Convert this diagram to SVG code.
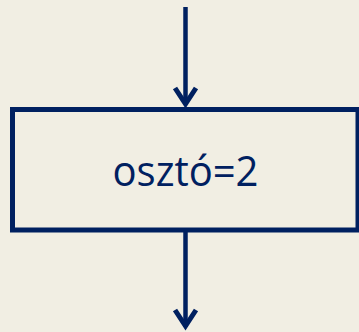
<svg xmlns="http://www.w3.org/2000/svg" width="359" height="332" viewBox="0 0 359 332">
  <style>
    .bg { fill: #f1eee3; }
    .box { fill: #f1eee3; stroke: #002060; stroke-width: 5; }
    .edge { fill: none; stroke: #002060; stroke-width: 4.5; }
    .head { fill: none; stroke: #002060; stroke-width: 5; stroke-linejoin: miter; stroke-linecap: butt; }
    .label { font-family: "Open Sans", "Noto Sans", sans-serif; font-size: 42px; fill: #002060; }
  </style>
  <rect class="bg" x="0" y="0" width="359" height="332"/>

  <g id="connectors">
    <!-- incoming flow -->
    <line class="edge" x1="185.5" y1="7" x2="185.5" y2="104"/>
    <polyline class="head" points="175,88 185.5,104 196,88"/>
    <!-- outgoing flow -->
    <line class="edge" x1="185.5" y1="232" x2="185.5" y2="327"/>
    <polyline class="head" points="175,310 185.5,326 196,310"/>
  </g>

  <g id="assign-divisor">
    <rect class="box" x="12.5" y="109.5" width="345.5" height="120.5"/>
    <text class="label" x="185.5" y="186" text-anchor="middle" textLength="146" lengthAdjust="spacingAndGlyphs">osztó=2</text>
  </g>
</svg>
